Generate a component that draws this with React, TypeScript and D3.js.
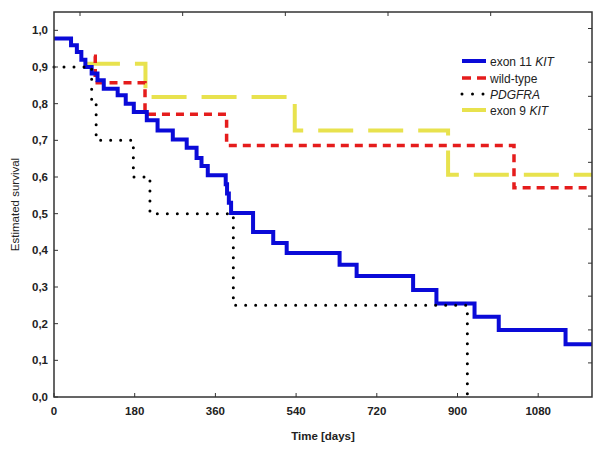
import React from "react";
import * as d3 from "d3";

// ---- data ----
const exon11Times = [0, 38, 51, 61, 70, 84, 97, 111, 142, 160, 178, 207, 231, 265, 296, 318, 329, 343, 383, 386, 390, 395, 444, 489, 519, 637, 675, 801, 853, 938, 992, 1141, 1200];
const exon11Surv = [0.978, 0.959, 0.941, 0.92, 0.90, 0.882, 0.864, 0.841, 0.823, 0.80, 0.777, 0.755, 0.727, 0.702, 0.68, 0.652, 0.63, 0.605, 0.58, 0.555, 0.53, 0.502, 0.45, 0.42, 0.393, 0.361, 0.33, 0.292, 0.255, 0.219, 0.183, 0.144, 0.144];

const wildTimes = [89, 92, 203, 385, 1026, 1200];
const wildSurv = [0.929, 0.857, 0.771, 0.686, 0.571, 0.571];

const pdgfraTimes = [0, 84, 94, 177, 214, 400, 922, 922];
const pdgfraSurv = [0.9, 0.8, 0.7, 0.6, 0.5, 0.25, 0.0, 0.0];

const exon9Times = [69, 204, 537, 879, 1200];
const exon9Surv = [0.909, 0.818, 0.727, 0.606, 0.606];

const xTicks = [0, 180, 360, 540, 720, 900, 1080];
const yTicks = [0, 0.1, 0.2, 0.3, 0.4, 0.5, 0.6, 0.7, 0.8, 0.9, 1.0];
const topTicks = [58, 287, 516, 745, 974];
const rightTicks = [0.093, 0.183, 0.275, 0.365, 0.458, 0.548, 0.64, 0.73, 0.82, 0.913, 1.005];

const seriesNames = ["exon 11 ", "wild-type", "PDGFRA", "exon 9 "];

const W = 600, H = 450;
const left = 54, right = 592, top = 12, bottom = 397;

const FONT = "'Liberation Sans', Arial, sans-serif";

export default function App() {
  const x = d3.scaleLinear().domain([0, 1200]).range([left, right]);
  const y = d3.scaleLinear().domain([0, 1.05]).range([bottom, top]);

  const line = d3
    .line<[number, number]>()
    .x((d) => x(d[0]))
    .y((d) => y(d[1]))
    .curve(d3.curveStepAfter);

  const zip = (t: number[], s: number[]) => t.map((v, i) => [v, s[i]] as [number, number]);

  const series = [
    { data: zip(exon11Times, exon11Surv), color: "#0a0ad8", width: 4, dash: undefined as string | undefined, legDash: undefined as string | undefined, cap: "butt" },
    { data: zip(wildTimes, wildSurv), color: "#e51c1c", width: 3.5, dash: "8 6", legDash: "9 6", cap: "butt" },
    { data: zip(pdgfraTimes, pdgfraSurv), color: "#000000", width: 3, dash: "0 10", legDash: "0 10.5", cap: "round" },
    { data: zip(exon9Times, exon9Surv), color: "#e8e24e", width: 4, dash: "35 15", legDash: undefined, cap: "butt" },
  ];
  const drawOrder = [3, 1, 0, 2];

  const legendY = [61, 78, 94, 110];

  return (
    <svg width={W} height={H} style={{ position: "absolute", left: 0, top: 0, background: "#fff" }} fontFamily={FONT}>
      <rect x={0} y={0} width={W} height={H} fill="#fff" />
      {/* curves */}
      {drawOrder.map((i) => {
        const s = series[i];
        return (
          <path
            key={i}
            d={line(s.data) || ""}
            fill="none"
            stroke={s.color}
            strokeWidth={s.width}
            strokeDasharray={s.dash}
            strokeLinecap={s.cap as any}
            strokeLinejoin="miter"
          />
        );
      })}
      {/* frame */}
      <rect x={left} y={top} width={right - left} height={bottom - top} fill="none" stroke="#333" strokeWidth={1.5} />
      {/* ticks */}
      {xTicks.map((t) => (
        <g key={"xt" + t}>
          <line x1={x(t)} x2={x(t)} y1={bottom} y2={bottom - 4} stroke="#333" strokeWidth={1} />
          <text x={x(t)} y={415} textAnchor="middle" fontSize={11.5} fontWeight="bold" fill="#222">
            {t}
          </text>
        </g>
      ))}
      {yTicks.map((t) => (
        <g key={"yt" + t}>
          <line x1={left} x2={left + 4} y1={y(t)} y2={y(t)} stroke="#333" strokeWidth={1} />
          <text x={48} y={y(t) + 4} textAnchor="end" fontSize={11.5} fontWeight="bold" fill="#222">
            {d3.format(".1f")(t).replace(".", ",")}
          </text>
        </g>
      ))}
      {topTicks.map((t) => (
        <line key={"tt" + t} x1={x(t)} x2={x(t)} y1={top} y2={top + 4} stroke="#333" strokeWidth={1} />
      ))}
      {rightTicks.map((t) => (
        <line key={"rt" + t} x1={right} x2={right - 4} y1={y(t)} y2={y(t)} stroke="#333" strokeWidth={1} />
      ))}
      {/* axis titles */}
      <text x={(left + right) / 2} y={440} textAnchor="middle" fontSize={11.5} fontWeight="bold" fill="#222">
        Time [days]
      </text>
      <text
        transform={`translate(19, ${(top + bottom) / 2}) rotate(-90)`}
        textAnchor="middle"
        fontSize={11.5}
        fill="#222"
      >
        Estimated survival
      </text>
      {/* legend */}
      {series.map((s, i) => (
        <g key={"lg" + i}>
          <line
            x1={462}
            x2={486}
            y1={legendY[i]}
            y2={legendY[i]}
            stroke={s.color}
            strokeWidth={s.width}
            strokeDasharray={s.legDash}
            strokeLinecap={s.cap as any}
          />
          <text x={490} y={legendY[i] + 4.5} fontSize={12} fill="#222">
            {i === 0 || i === 3 ? (
              <>
                {seriesNames[i]}
                <tspan fontStyle="italic">KIT</tspan>
              </>
            ) : i === 2 ? (
              <tspan fontStyle="italic">{seriesNames[i]}</tspan>
            ) : (
              seriesNames[i]
            )}
          </text>
        </g>
      ))}
    </svg>
  );
}
